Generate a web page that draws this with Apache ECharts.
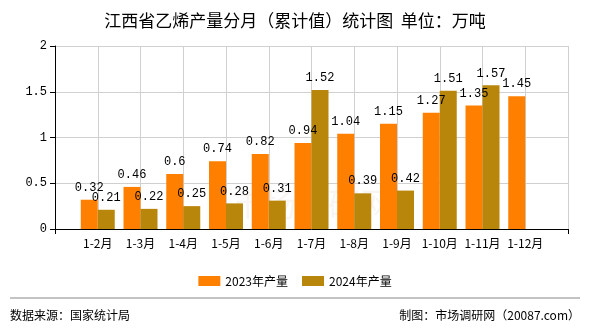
<!DOCTYPE html>
<html>
<head>
<meta charset="utf-8">
<script src="https://cdn.jsdelivr.net/npm/echarts@6/dist/echarts.min.js"></script>
<style>
  html, body { margin: 0; padding: 0; background: #fff; }
  #chart { width: 590px; height: 330px; }
</style>
</head>
<body>
<div id="chart"></div>
<script>
// Monthly cumulative ethylene output, Jiangxi (万吨)
var categories = ['1-2月', '1-3月', '1-4月', '1-5月', '1-6月', '1-7月', '1-8月', '1-9月', '1-10月', '1-11月', '1-12月'];
var values2023 = [0.32, 0.46, 0.6, 0.74, 0.82, 0.94, 1.04, 1.15, 1.27, 1.35, 1.45];
var values2024 = [0.21, 0.22, 0.25, 0.28, 0.31, 1.52, 0.39, 0.42, 1.51, 1.57, null];
var seriesNames = ['2023年产量', '2024年产量'];
var yTicks = { min: 0, max: 2, interval: 0.5 };

// pad the axis with an empty slot on each end so the months sit on grid lines
var axisData = [''].concat(categories, ['']);
function pad(arr) { return [null].concat(arr, [null]); }

var cjk = "'Noto Sans CJK SC', sans-serif";
var mono = "'Liberation Mono', 'DejaVu Sans Mono', monospace";

var chart = echarts.init(document.getElementById('chart'), null, { renderer: 'canvas' });

var labelStyle = {
  show: true,
  position: 'top',
  distance: 6,
  color: '#000',
  fontFamily: mono,
  fontSize: 12
};

chart.setOption({
  animation: false,
  backgroundColor: '#fff',
  title: {
    text: '江西省乙烯产量分月（累计值）统计图  单位：万吨',
    left: 'center',
    top: 7,
    textStyle: { fontFamily: cjk, fontSize: 17, fontWeight: 'normal', color: '#000' }
  },
  legend: {
    data: seriesNames,
    top: 270,
    left: 'center',
    itemWidth: 22,
    itemHeight: 10,
    itemGap: 14,
    icon: 'rect',
    textStyle: { fontFamily: cjk, fontSize: 12, color: '#000' }
  },
  grid: { left: 55, right: 22, top: 46, bottom: 101 },
  xAxis: {
    type: 'category',
    data: axisData,
    boundaryGap: false,
    axisLine: { lineStyle: { color: '#000', width: 1 } },
    axisTick: {
      show: true,
      length: 5,
      interval: function (idx) { return idx === 0 || idx === axisData.length - 1; },
      lineStyle: { color: '#000' }
    },
    axisLabel: { color: '#000', fontFamily: cjk, fontSize: 12, margin: 8, interval: 0 },
    splitLine: { show: true, lineStyle: { color: '#d0d0d0', width: 1 } }
  },
  yAxis: {
    type: 'value',
    min: yTicks.min,
    max: yTicks.max,
    interval: yTicks.interval,
    axisLine: { show: true, lineStyle: { color: '#000', width: 1 } },
    axisTick: { show: true, length: 5, lineStyle: { color: '#000' } },
    axisLabel: { color: '#000', fontFamily: mono, fontSize: 12, margin: 8 },
    splitLine: { show: true, lineStyle: { color: '#d0d0d0', width: 1 } }
  },
  graphic: [
    {
      type: 'text',
      left: 232, top: 188,
      silent: true,
      style: { text: '市场调研网', fontFamily: cjk, fontSize: 32, fill: 'rgba(190,150,120,0.10)' }
    },
    {
      type: 'line',
      shape: { x1: 10, y1: 298, x2: 580, y2: 298 },
      style: { stroke: '#888', lineWidth: 1 }
    },
    {
      type: 'text',
      left: 10, top: 309,
      style: { text: '数据来源：国家统计局', fontFamily: cjk, fontSize: 12, fill: '#000' }
    },
    {
      type: 'text',
      right: 10, top: 309,
      style: { text: '制图：市场调研网（20087.com）', fontFamily: cjk, fontSize: 12, fill: '#000' }
    }
  ],
  series: [
    {
      name: seriesNames[0],
      type: 'bar',
      data: pad(values2023),
      barWidth: 17,
      barGap: '0%',
      itemStyle: { color: '#FF8000' },
      label: labelStyle
    },
    {
      name: seriesNames[1],
      type: 'bar',
      data: pad(values2024),
      barWidth: 17,
      barGap: '0%',
      itemStyle: { color: '#B8860B' },
      label: labelStyle
    }
  ]
});
</script>
</body>
</html>
